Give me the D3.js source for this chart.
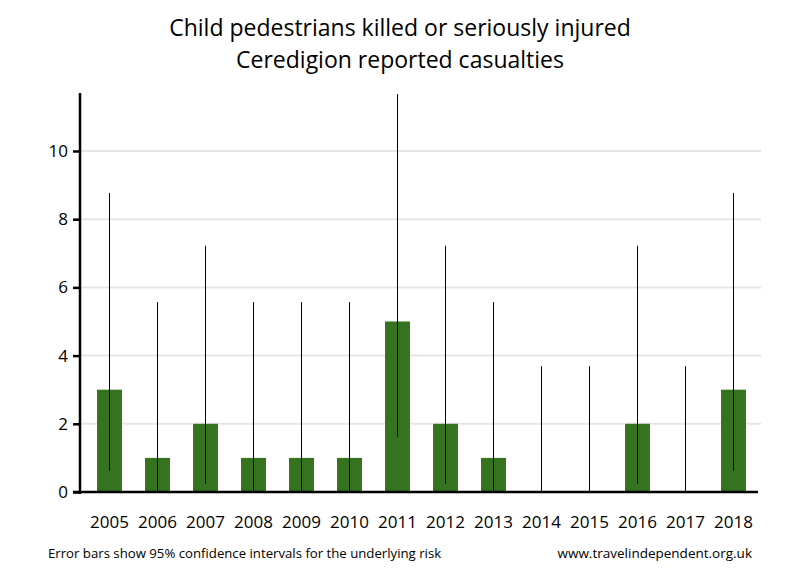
<!DOCTYPE html>
<html>
<head>
<meta charset="utf-8">
<script src="https://cdn.jsdelivr.net/npm/d3@7"></script>
<style>
  body { margin: 0; background: #fff; }
  text { font-family: "Open Sans", sans-serif; fill: #000; }
</style>
</head>
<body>
<div id="chart"></div>
<script>
var width = 800;
var height = 580;

// data
var years = ["2005", "2006", "2007", "2008", "2009", "2010", "2011",
             "2012", "2013", "2014", "2015", "2016", "2017", "2018"];
var casualties = [3, 1, 2, 1, 1, 1, 5, 2, 1, 0, 0, 2, 0, 3];
var lowerCI = [0.62, 0.03, 0.24, 0.03, 0.03, 0.03, 1.62, 0.24, 0.03, 0, 0, 0.24, 0, 0.62];
var upperCI = [8.77, 5.57, 7.22, 5.57, 5.57, 5.57, 11.67, 7.22, 5.57, 3.69, 3.69, 7.22, 3.69, 8.77];
var yTicks = [0, 2, 4, 6, 8, 10];

var svg = d3.select("#chart")
    .append("svg")
    .attr("width", width)
    .attr("height", height);

var x = d3.scaleBand()
    .domain(years)
    .range([85.5, 757.5])
    .paddingInner(0.48)
    .paddingOuter(0.24);

var y = d3.scaleLinear()
    .domain([0, 11.7])
    .range([492, 93]);

// gridlines
svg.selectAll(".grid")
    .data(yTicks.filter(function(d){ return d > 0; }))
    .enter()
    .append("line")
    .attr("class", "grid")
    .attr("x1", 80)
    .attr("x2", 761)
    .attr("y1", function(d){ return y(d); })
    .attr("y2", function(d){ return y(d); })
    .attr("stroke", "#e6e6e6")
    .attr("stroke-width", 2);

// bars
svg.selectAll(".bar")
    .data(years)
    .enter()
    .append("rect")
    .attr("class", "bar")
    .attr("x", function(d){ return x(d); })
    .attr("width", x.bandwidth())
    .attr("y", function(d, i){ return y(casualties[i]); })
    .attr("height", function(d, i){ return y(0) - y(casualties[i]); })
    .attr("fill", "#367321");

// error bars
svg.selectAll(".err")
    .data(years)
    .enter()
    .append("line")
    .attr("class", "err")
    .attr("x1", function(d){ return Math.floor(x(d) + x.bandwidth() / 2) + 0.5; })
    .attr("x2", function(d){ return Math.floor(x(d) + x.bandwidth() / 2) + 0.5; })
    .attr("y1", function(d, i){ return y(lowerCI[i]); })
    .attr("y2", function(d, i){ return y(upperCI[i]); })
    .attr("stroke", "#000")
    .attr("stroke-width", 1);

// y axis
var yAxis = d3.axisLeft(y)
    .tickValues(yTicks)
    .tickSize(7)
    .tickPadding(5);

var yG = svg.append("g")
    .attr("transform", "translate(80,0)")
    .call(yAxis);
yG.select(".domain").remove();
yG.selectAll(".tick line").attr("stroke", "#000").attr("stroke-width", 2.5);
yG.selectAll(".tick text")
    .style("font-size", "17px")
    .style("font-family", "'Open Sans', sans-serif");

svg.append("line")
    .attr("x1", 80).attr("x2", 80)
    .attr("y1", 93).attr("y2", 494)
    .attr("stroke", "#000")
    .attr("stroke-width", 2.5);

svg.append("line")
    .attr("x1", 73).attr("x2", 758)
    .attr("y1", y(0)).attr("y2", y(0))
    .attr("stroke", "#000")
    .attr("stroke-width", 2.5);

// x labels
svg.selectAll(".xlab")
    .data(years)
    .enter()
    .append("text")
    .attr("class", "xlab")
    .attr("x", function(d){ return x(d) + x.bandwidth() / 2; })
    .attr("y", 528)
    .attr("text-anchor", "middle")
    .style("font-size", "17px")
    .text(function(d){ return d; });

// titles
svg.append("text")
    .attr("x", 400).attr("y", 36)
    .attr("text-anchor", "middle")
    .style("font-size", "23px")
    .text("Child pedestrians killed or seriously injured");
svg.append("text")
    .attr("x", 400).attr("y", 68)
    .attr("text-anchor", "middle")
    .style("font-size", "23px")
    .text("Ceredigion reported casualties");

// footnotes
svg.append("text")
    .attr("x", 48).attr("y", 558)
    .style("font-size", "13.2px")
    .text("Error bars show 95% confidence intervals for the underlying risk");
svg.append("text")
    .attr("x", 752).attr("y", 558)
    .attr("text-anchor", "end")
    .style("font-size", "13.5px")
    .text("www.travelindependent.org.uk");
</script>
</body>
</html>
